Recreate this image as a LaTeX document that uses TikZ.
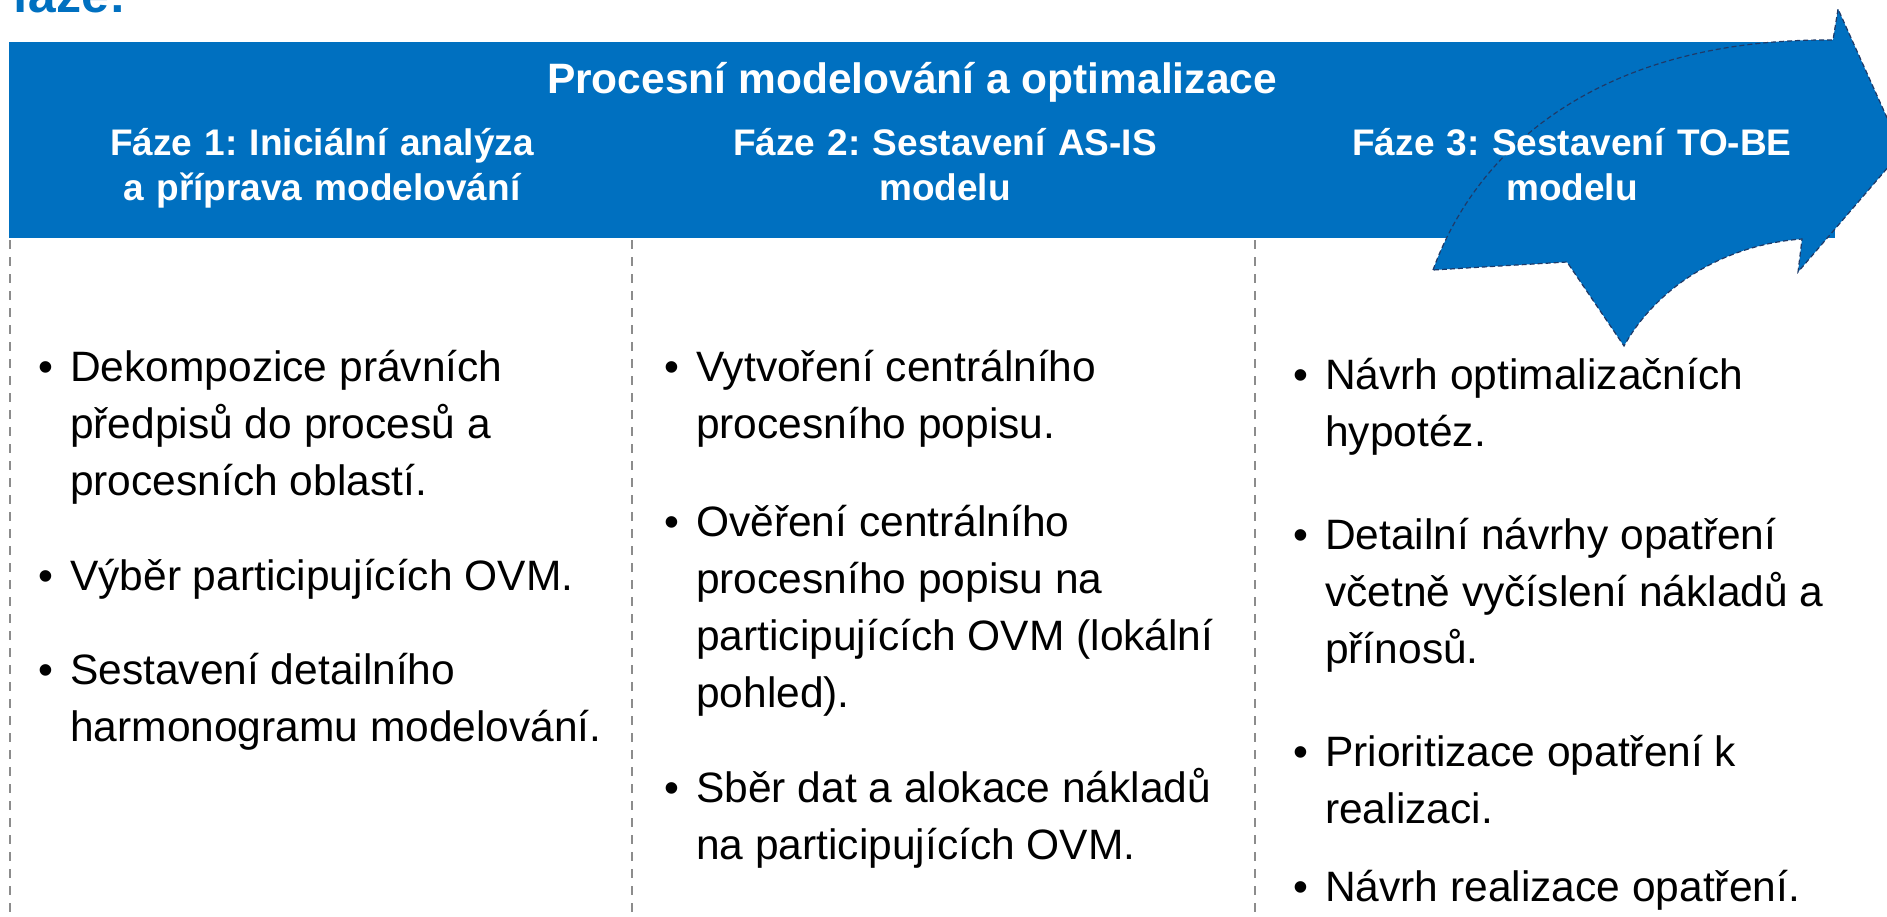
\documentclass[tikz,border=0pt]{standalone}
\usepackage{fontspec}
\setmainfont{Liberation Sans}
\usepackage{tikz}
\definecolor{bandblue}{HTML}{0070C0}
\definecolor{arrowline}{HTML}{1F3A68}
\definecolor{divgray}{HTML}{8C8C8C}
\newcommand{\bitem}[1]{\makebox[32pt][l]{\textbullet}\parbox[t]{540pt}{\raggedright #1}}
\frenchspacing

\begin{document}
\begin{tikzpicture}[x=1pt,y=-1pt,
    phase/.style={text=white, font=\bfseries\fontsize{37}{45}\selectfont, text width=560pt, align=center, anchor=base, inner sep=0pt},
    bullets/.style={font=\fontsize{42.5}{57}\selectfont, anchor=base west, inner sep=0pt},
    coldiv/.style={draw=divgray, line width=2pt, dash pattern=on 9pt off 8pt},
    bigarrow/.style={fill=bandblue, draw=arrowline, line width=1.2pt, dash pattern=on 5pt off 3pt}]
    \useasboundingbox (0,0) rectangle (1887,916);

    % Heading, cut by the page edge
    \node[anchor=base west, inner sep=0pt, text=bandblue, font=\bfseries\fontsize{50}{60}\selectfont] (heading) at (12,12) {fáze:};

    % Blue band
    \fill[bandblue] (9,42) rectangle (1835,238);

    % Curved arrow
    \draw[bigarrow] (1433,270) .. controls (1480,140) and (1610,38) .. (1833,40) -- (1838,9) -- (1902,151) -- (1798,272) -- (1802,239)
        .. controls (1720,245) and (1655,290) .. (1624,346) -- (1567,262) -- cycle;

    % Column dividers
    \draw[coldiv] (10,240) -- (10,916);
    \draw[coldiv] (632,240) -- (632,916);
    \draw[coldiv] (1255,240) -- (1255,916);

    % Titles
    \node[anchor=base, inner sep=0pt, text=white, font=\bfseries\fontsize{42.5}{50}\selectfont] (title) at (912,93) {Procesní modelování a optimalizace};
    \node[phase] (phase1) at (322,155) {Fáze 1: Iniciální analýza\\a příprava modelování};
    \node[phase] (phase2) at (945,155) {Fáze 2: Sestavení AS-IS\\modelu};
    \node[phase] (phase3) at (1572,155) {Fáze 3: Sestavení TO-BE\\modelu};

    % Phase 1
    \node[bullets] (c1a) at (38,381) {\bitem{Dekompozice právních\\předpisů do procesů a\\procesních oblastí.}};
    \node[bullets] (c1b) at (38,590) {\bitem{Výběr participujících OVM.}};
    \node[bullets] (c1c) at (38,684) {\bitem{Sestavení detailního\\harmonogramu modelování.}};

    % Phase 2
    \node[bullets] (c2a) at (664,381) {\bitem{Vytvoření centrálního\\procesního popisu.}};
    \node[bullets] (c2b) at (664,536) {\bitem{Ověření centrálního\\procesního popisu na\\participujících OVM (lokální\\pohled).}};
    \node[bullets] (c2c) at (664,802) {\bitem{Sběr dat a alokace nákladů\\na participujících OVM.}};

    % Phase 3
    \node[bullets] (c3a) at (1293,389) {\bitem{Návrh optimalizačních\\hypotéz.}};
    \node[bullets] (c3b) at (1293,549) {\bitem{Detailní návrhy opatření\\včetně vyčíslení nákladů a\\přínosů.}};
    \node[bullets] (c3c) at (1293,766) {\bitem{Prioritizace opatření k\\realizaci.}};
    \node[bullets] (c3d) at (1293,901) {\bitem{Návrh realizace opatření.}};
\end{tikzpicture}
\end{document}
